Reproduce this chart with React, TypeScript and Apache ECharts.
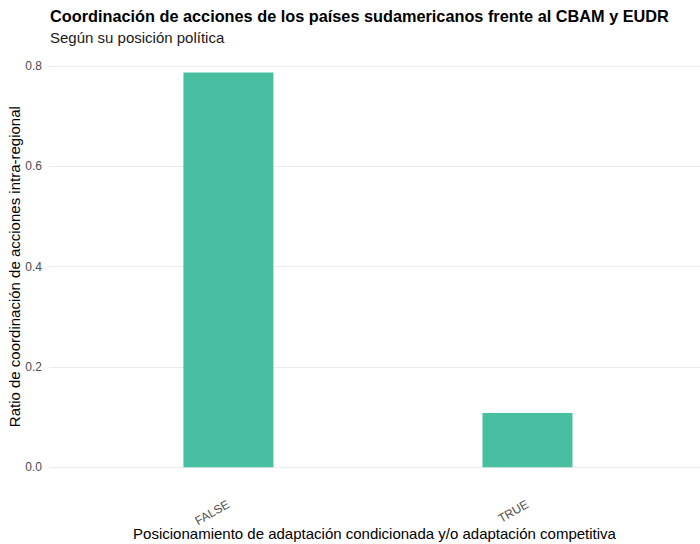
import React, { useEffect, useRef } from "react";
import * as echarts from "echarts";

const categories = ["FALSE", "TRUE"];
const values = [0.787, 0.108];
const yTicks = [0, 0.2, 0.4, 0.6, 0.8];

const titleText = "Coordinación de acciones de los países sudamericanos frente al CBAM y EUDR";
const subtitleText = "Según su posición política";
const xName = "Posicionamiento de adaptación condicionada y/o adaptación competitiva";
const yName = "Ratio de coordinación de acciones intra-regional";

export default function App() {
  const ref = useRef<HTMLDivElement>(null);
  useEffect(() => {
    if (!ref.current) return;
    const chart = echarts.init(ref.current, null, { renderer: "svg" });
    const font = "'Liberation Sans', Arial, sans-serif";
    chart.setOption({
      animation: false,
      backgroundColor: "#ffffff",
      textStyle: { fontFamily: font },
      title: {
        text: titleText,
        subtext: subtitleText,
        left: 45,
        top: 3,
        itemGap: 6,
        textStyle: { fontFamily: font, fontSize: 16.3, fontWeight: "bold", color: "#000000" },
        subtextStyle: { fontFamily: font, fontSize: 15, color: "#1a1a1a" },
      },
      grid: { left: 49, right: 0, top: 66, bottom: 76.7, containLabel: false, outerBoundsMode: "none" },
      xAxis: {
        type: "value",
        min: 0.4,
        max: 2.577,
        name: xName,
        nameLocation: "middle",
        nameGap: 59,
        nameMoveOverlap: false,
        nameTextStyle: { fontFamily: font, fontSize: 15, color: "#000000" },
        axisLine: { show: false },
        axisTick: { show: false },
        splitLine: { show: false },
        axisLabel: {
          customValues: categories.map((_, i) => i + 1),
          formatter: (v: number) => categories[Math.round(v) - 1] ?? "",
          rotate: 30,
          margin: 36,
          fontSize: 12,
          color: "#4d4d4d",
          fontFamily: font,
        },
      },
      yAxis: {
        type: "value",
        min: yTicks[0],
        max: yTicks[yTicks.length - 1],
        interval: 0.2,
        name: yName,
        nameLocation: "middle",
        nameGap: 27,
        nameMoveOverlap: false,
        nameTextStyle: { fontFamily: font, fontSize: 15, color: "#000000" },
        axisLine: { show: false },
        axisTick: { show: false },
        splitLine: { show: true, lineStyle: { color: "#ebebeb", width: 1 } },
        axisLabel: {
          formatter: (v: number) => v.toFixed(1),
          margin: 7,
          fontSize: 12,
          color: "#4d4d4d",
          fontFamily: font,
        },
      },
      series: [
        {
          type: "bar",
          barWidth: 90,
          data: values.map((v, i) => [i + 1, v]),
          itemStyle: { color: "#48bfa0" },
        },
      ],
    });
    return () => chart.dispose();
  }, []);
  return <div ref={ref} style={{ width: 700, height: 544, position: "absolute", left: 0, top: 0 }} />;
}
